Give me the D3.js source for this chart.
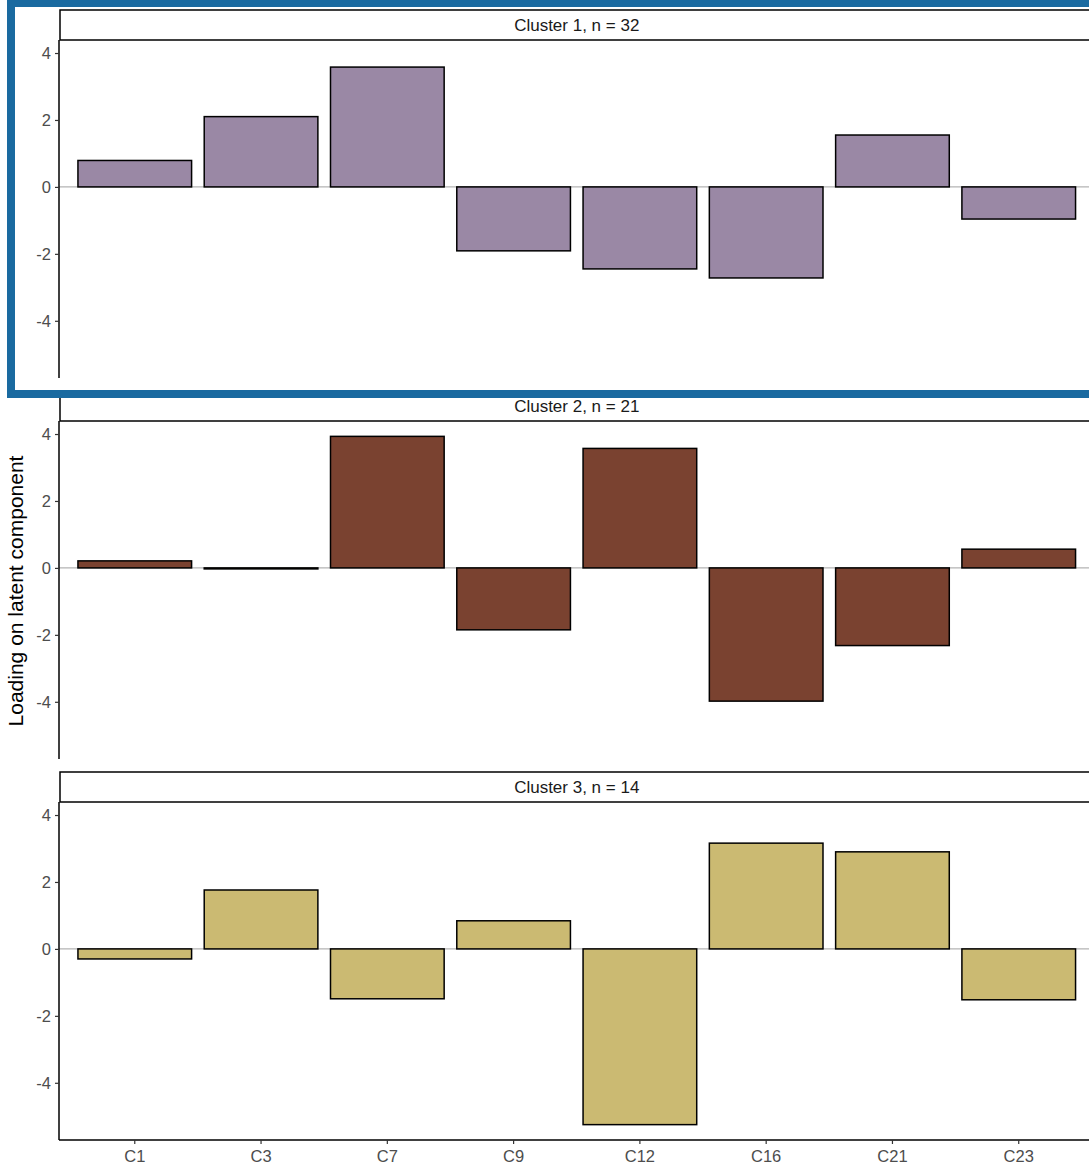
<!DOCTYPE html>
<html>
<head>
<meta charset="utf-8">
<script src="https://cdn.jsdelivr.net/npm/d3@7"></script>
<style>
  html, body { margin: 0; padding: 0; background: #fff; }
  svg { display: block; }
  svg text { font-family: "Liberation Sans", Arial, sans-serif; }
</style>
</head>
<body>
<svg id="chart" width="1089" height="1172"></svg>
<script>
// Latent component loadings per cluster
const components = ["C1", "C3", "C7", "C9", "C12", "C16", "C21", "C23"];
const clusterLabels = ["Cluster 1, n = 32", "Cluster 2, n = 21", "Cluster 3, n = 14"];
const clusterColors = ["#9a88a5", "#7a4230", "#cbba72"];
const cluster1 = [0.79, 2.10, 3.58, -1.91, -2.45, -2.72, 1.55, -0.96];
const cluster2 = [0.21, -0.03, 3.93, -1.85, 3.57, -3.98, -2.32, 0.56];
const cluster3 = [-0.30, 1.76, -1.49, 0.84, -5.25, 3.16, 2.90, -1.52];
const yTicks = [-4, -2, 0, 2, 4];
const yTitle = "Loading on latent component";

const clusters = [cluster1, cluster2, cluster3];

const svg = d3.select("#chart");

// layout
const left = 59, right = 1094.5;
const panelTop0 = 40, panelH = 338, panelStep = 381, stripH = 30;
const tickFont = 16.5, stripFont = 17, titleFont = 21;

const x = d3.scaleBand()
  .domain(components)
  .range([left, right])
  .paddingInner(0.1)
  .paddingOuter(0.15);

// shared y domain with 5% expansion around the data range
const all = clusters.flat();
const lo = d3.min(all), hi = d3.max(all);
const pad = (hi - lo) * 0.05;
const yDomain = [lo - pad, hi + pad];

clusters.forEach((vals, i) => {
  const top = panelTop0 + i * panelStep;
  const bottom = top + panelH;
  const y = d3.scaleLinear().domain(yDomain).range([bottom, top]);
  const g = svg.append("g");

  // zero reference line
  g.append("line")
    .attr("x1", left).attr("x2", right)
    .attr("y1", y(0)).attr("y2", y(0))
    .attr("stroke", "#b3b3b3").attr("stroke-width", 1.2);

  // bars
  g.selectAll("rect.bar")
    .data(components.map((c, k) => ({ c, v: vals[k] })))
    .join("rect")
    .attr("class", "bar")
    .attr("x", d => x(d.c))
    .attr("width", x.bandwidth())
    .attr("y", d => y(Math.max(0, d.v)))
    .attr("height", d => Math.abs(y(d.v) - y(0)))
    .attr("fill", clusterColors[i])
    .attr("stroke", "#000")
    .attr("stroke-width", 1.5);

  // y axis
  const ya = g.append("g")
    .attr("transform", `translate(${left},0)`)
    .call(d3.axisLeft(y).tickValues(yTicks).tickSize(4).tickPadding(4).tickFormat(d3.format("d")));
  ya.attr("font-size", tickFont).attr("font-family", null);
  ya.select(".domain").attr("stroke", "#000").attr("stroke-width", 1.5)
    .attr("d", `M0,${top}V${bottom}`);
  ya.selectAll(".tick line").attr("stroke", "#333").attr("stroke-width", 1.2);
  ya.selectAll(".tick text").attr("fill", "#4d4d4d")
    .text(d => d < 0 ? "-" + Math.abs(d) : d);

  // strip
  g.append("rect")
    .attr("x", left + 1).attr("y", top - stripH)
    .attr("width", right - left + 20).attr("height", stripH)
    .attr("fill", "#fff").attr("stroke", "#000").attr("stroke-width", 1.5);
  g.append("text")
    .attr("x", (left + right) / 2).attr("y", top - stripH / 2)
    .attr("dy", "0.35em").attr("text-anchor", "middle")
    .attr("font-size", stripFont).attr("fill", "#1a1a1a")
    .text(clusterLabels[i]);

  // x axis on the bottom panel only
  if (i === clusters.length - 1) {
    const xa = g.append("g")
      .attr("transform", `translate(0,${bottom})`)
      .call(d3.axisBottom(x).tickSize(4).tickPadding(6));
    xa.attr("font-size", tickFont).attr("font-family", null);
    xa.select(".domain").attr("stroke", "#000").attr("stroke-width", 1.5)
      .attr("d", `M${left},0H${right}`);
    xa.selectAll(".tick line").attr("stroke", "#333").attr("stroke-width", 1.2);
    xa.selectAll(".tick text").attr("fill", "#4d4d4d");
  }
});

// y axis title
svg.append("text")
  .attr("transform", "translate(23,591) rotate(-90)")
  .attr("text-anchor", "middle")
  .attr("font-size", titleFont).attr("fill", "#000")
  .text(yTitle);

// highlight frame around the first cluster
svg.append("rect")
  .attr("x", 11).attr("y", 3)
  .attr("width", 1100).attr("height", 391)
  .attr("fill", "none").attr("stroke", "#1a6aa0").attr("stroke-width", 8);
</script>
</body>
</html>
